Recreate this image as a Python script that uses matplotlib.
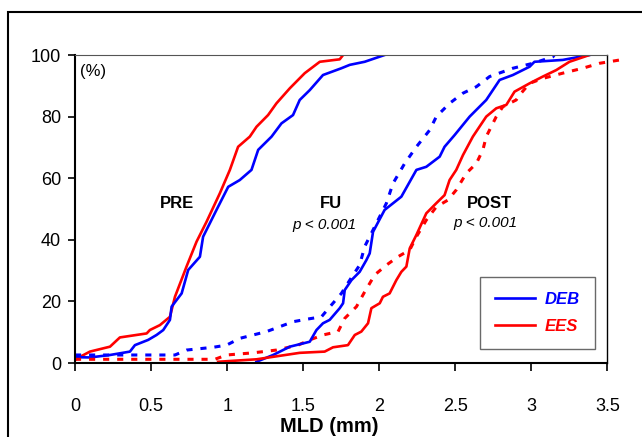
import matplotlib
matplotlib.use("Agg")
import matplotlib.pyplot as plt
from matplotlib.patches import Rectangle
from matplotlib import font_manager

# ---- data (MLD in mm, cumulative %) ----
pre_ees_x = [0.0, 0.033, 0.098, 0.230, 0.295, 0.471, 0.492, 0.558, 0.624, 0.657, 0.733, 0.799, 0.865, 0.952,
             1.018, 1.072, 1.149, 1.193, 1.269, 1.324, 1.412, 1.510, 1.609, 1.740, 1.762]
pre_ees_y = [1.0, 2.0, 3.7, 5.3, 8.3, 9.6, 10.7, 12.3, 15.0, 21.5, 31.3, 39.4, 45.9, 55.1,
             62.7, 70.2, 73.5, 76.7, 80.5, 84.3, 89.2, 94.1, 97.8, 98.6, 100]

pre_deb_x = [0.0, 0.098, 0.230, 0.361, 0.394, 0.481, 0.536, 0.580, 0.624, 0.635, 0.701, 0.744, 0.821, 0.842,
             0.930, 1.007, 1.083, 1.160, 1.204, 1.292, 1.357, 1.433, 1.477, 1.543, 1.630, 1.751, 1.806,
             1.904, 2.035]
pre_deb_y = [1.9, 1.8, 2.6, 3.7, 5.8, 7.5, 9.1, 10.7, 14.0, 18.3, 22.6, 30.2, 34.5, 41.0,
             49.7, 57.2, 59.4, 62.7, 69.2, 73.5, 77.8, 80.5, 85.4, 88.6, 93.5, 95.7, 96.8,
             97.8, 100]

fu_deb_x = [0.0, 0.657, 0.733, 0.908, 0.996, 1.083, 1.259, 1.433, 1.521, 1.620, 1.685, 1.751, 1.806, 1.871,
            1.904, 1.959, 2.047, 2.090, 2.167, 2.244, 2.331, 2.375, 2.462, 2.550, 2.638, 2.725, 2.878,
            3.009, 3.141, 3.150]
fu_deb_y = [2.6, 2.6, 4.2, 5.1, 5.8, 8.0, 10.2, 13.4, 14.2, 15.0, 18.8, 22.6, 26.9, 31.8,
            37.8, 43.2, 51.9, 58.3, 64.8, 70.2, 75.6, 80.0, 84.3, 87.6, 89.7, 93.0, 95.7,
            97.3, 99.4, 100]

fu_ees_x = [0.0, 0.919, 0.996, 1.171, 1.324, 1.466, 1.543, 1.630, 1.729, 1.773, 1.850, 1.904, 1.970, 2.047,
            2.123, 2.200, 2.244, 2.309, 2.375, 2.451, 2.506, 2.572, 2.638, 2.681, 2.703, 2.769, 2.812,
            2.900, 2.922, 2.988, 3.075, 3.206, 3.337, 3.447, 3.620]
fu_ees_y = [1.2, 1.2, 2.6, 3.3, 4.2, 5.8, 7.5, 9.1, 10.2, 14.5, 18.3, 23.1, 28.6, 31.8,
            34.5, 36.7, 41.0, 46.4, 50.7, 52.9, 56.2, 61.6, 64.8, 69.2, 73.5, 80.0, 83.2,
            85.4, 87.0, 90.8, 92.4, 94.1, 95.7, 97.3, 98.7]

post_deb_x = [1.193, 1.302, 1.412, 1.543, 1.587, 1.630, 1.674, 1.740, 1.762, 1.773, 1.817, 1.871, 1.915,
              1.937, 1.959, 2.035, 2.145, 2.244, 2.309, 2.397, 2.429, 2.495, 2.594, 2.703, 2.791, 2.878,
              2.988, 3.020, 3.206, 3.381]
post_deb_y = [0.4, 2.6, 5.3, 6.9, 10.7, 12.9, 14.0, 17.8, 19.4, 23.7, 26.9, 29.6, 33.4,
              35.6, 42.6, 49.7, 54.0, 62.7, 63.7, 67.0, 70.2, 74.0, 80.0, 85.4, 91.9, 93.5,
              96.2, 97.8, 98.4, 100]

post_ees_x = [0.941, 1.193, 1.477, 1.641, 1.696, 1.794, 1.839, 1.882, 1.926, 1.948, 2.003, 2.024, 2.068,
              2.112, 2.145, 2.178, 2.200, 2.244, 2.309, 2.375, 2.429, 2.462, 2.506, 2.550, 2.615, 2.703,
              2.769, 2.835, 2.889, 2.988, 3.075, 3.163, 3.250, 3.381]
post_ees_y = [0.4, 1.2, 3.3, 3.7, 5.1, 5.8, 9.1, 10.2, 12.9, 17.8, 19.4, 21.5, 22.6,
              26.9, 29.6, 31.3, 37.2, 41.6, 48.6, 51.9, 54.5, 59.4, 62.7, 67.5, 73.5, 80.0,
              82.7, 83.8, 88.1, 90.8, 93.0, 95.1, 97.8, 100]

x_ticks = [0, 0.5, 1, 1.5, 2, 2.5, 3, 3.5]
x_tick_labels = ["0", "0.5", "1", "1.5", "2", "2.5", "3", "3.5"]
y_ticks = [0, 20, 40, 60, 80, 100]
y_tick_labels = ["0", "20", "40", "60", "80", "100"]

plt.rcParams['font.family'] = ['Liberation Sans', 'DejaVu Sans']
names = {f.name for f in font_manager.fontManager.ttflist}
tick_family = 'Liberation Sans Narrow' if 'Liberation Sans Narrow' in names else 'Liberation Sans'
tick_size = 15 if tick_family == 'Liberation Sans Narrow' else 13

W, H = 642, 437
fig = plt.figure(figsize=(W / 100, H / 100), dpi=100)
ax = fig.add_axes([75 / W, (H - 363) / H, (607.5 - 75) / W, (363 - 55) / H])

BLUE = '#0000FF'
RED = '#FF0000'
lw = 1.9
dot = (0, (2.0, 2.6))

ax.plot(pre_ees_x, pre_ees_y, color=RED, lw=lw)
ax.plot(pre_deb_x, pre_deb_y, color=BLUE, lw=lw)
ax.plot(fu_deb_x, fu_deb_y, color=BLUE, lw=lw + 0.3, linestyle=dot, dash_capstyle='butt')
ax.plot(fu_ees_x, fu_ees_y, color=RED, lw=lw + 0.3, linestyle=dot, dash_capstyle='butt', clip_on=False)
ax.plot(post_deb_x, post_deb_y, color=BLUE, lw=lw, label='DEB')
ax.plot(post_ees_x, post_ees_y, color=RED, lw=lw, label='EES')

ax.set_xlim(0, 3.5)
ax.set_ylim(0, 100)
ax.set_xticks(x_ticks)
ax.set_xticklabels(x_tick_labels, family=tick_family)
ax.set_yticks(y_ticks)
ax.set_yticklabels(y_tick_labels, family=tick_family)
ax.tick_params(axis='x', direction='out', length=6, width=1.2, pad=19, labelsize=tick_size)
ax.tick_params(axis='y', direction='out', length=5, width=1.2, pad=5, labelsize=tick_size)
for s in ['left', 'bottom']:
    ax.spines[s].set_linewidth(1.5)
    ax.spines[s].set_color('black')
ax.spines['top'].set_linewidth(0.8)
ax.spines['top'].set_color('#555555')
ax.spines['right'].set_linewidth(1.0)
ax.spines['right'].set_color('black')

fig.text(329 / W, 1 - 426 / H, 'MLD (mm)', ha='center', va='center', fontsize=14.5, fontweight='bold')

ax.text(0.033, 94.8, '(%)', ha='left', va='center', fontsize=tick_size - 1, family=tick_family)
ax.text(0.668, 51.9, 'PRE', ha='center', va='center', fontsize=12, fontweight='bold')
ax.text(1.685, 51.9, 'FU', ha='center', va='center', fontsize=12, fontweight='bold')
ax.text(1.638, 44.8, 'p < 0.001', ha='center', va='center', fontsize=11, style='italic')
ax.text(2.725, 51.9, 'POST', ha='center', va='center', fontsize=12, fontweight='bold')
ax.text(2.697, 45.4, 'p < 0.001', ha='center', va='center', fontsize=11, style='italic')

leg = ax.legend(loc='lower right', bbox_to_anchor=(0.9765, 0.045),
                prop={'weight': 'bold', 'style': 'italic', 'size': 12},
                frameon=True, fancybox=False, handlelength=2.4, handletextpad=0.6,
                borderpad=0.9, labelspacing=0.75, borderaxespad=0)
leg.get_frame().set_edgecolor('#444444')
leg.get_frame().set_linewidth(1.0)
for t, c in zip(leg.get_texts(), [BLUE, RED]):
    t.set_color(c)

# outer frame
fig.patches.append(Rectangle((8 / W, -0.2), 1.2, 1 - 12 / H + 0.2, transform=fig.transFigure,
                             fill=False, edgecolor='black', linewidth=1.5))

fig.savefig('out.png', dpi=100)
